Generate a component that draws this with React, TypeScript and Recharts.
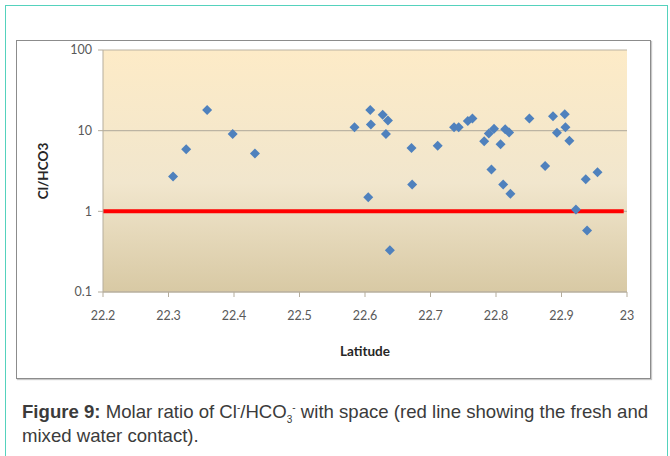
import {
  ScatterChart, Scatter, XAxis, YAxis, CartesianGrid, ReferenceLine,
} from "recharts";

// latitude of each sample and its Cl/HCO3 molar ratio
const latitude = [
  22.307, 22.327, 22.359, 22.398, 22.432, 22.584, 22.605, 22.608, 22.609, 22.627,
  22.635, 22.632, 22.638, 22.671, 22.672, 22.711, 22.736, 22.743, 22.757, 22.764,
  22.782, 22.789, 22.797, 22.807, 22.793, 22.814, 22.82, 22.811, 22.822, 22.851,
  22.875, 22.887, 22.893, 22.905, 22.906, 22.912, 22.922, 22.937, 22.939, 22.955,
];
const ratio = [
  2.7, 5.9, 18, 9.1, 5.2, 11, 1.5, 18, 11.9, 15.7,
  13.4, 9.1, 0.33, 6.1, 2.15, 6.5, 11, 11, 13.2, 14.2,
  7.4, 9.2, 10.6, 6.8, 3.3, 10.4, 9.5, 2.15, 1.65, 14.2,
  3.65, 15.1, 9.4, 16, 11, 7.5, 1.05, 2.5, 0.58, 3.05,
];
const xTicks = [22.2, 22.3, 22.4, 22.5, 22.6, 22.7, 22.8, 22.9, 23];
const yTicks = [0.1, 1, 10, 100];
const minorTicks = [
  0.2, 0.3, 0.4, 0.5, 0.6, 0.7, 0.8, 0.9,
  2, 3, 4, 5, 6, 7, 8, 9,
  20, 30, 40, 50, 60, 70, 80, 90,
];
// fresh / mixed water contact line
const contactLine = [
  { x: 22.2, y: 1 },
  { x: 22.995, y: 1 },
];

const points = latitude.map((x, i) => ({ x, y: ratio[i] }));

const tickStyle = { fill: "#595959", fontSize: 12.5, fontFamily: "Lato" };

const Diamond = (props: any) => {
  const { cx, cy } = props;
  const r = 5;
  return (
    <polygon
      points={`${cx},${cy - r} ${cx + r},${cy} ${cx},${cy + r} ${cx - r},${cy}`}
      fill="#4f81bd"
    />
  );
};

const YLabel = (props: any) => {
  const vb = props.viewBox;
  const x = vb.x;
  const y = vb.y + vb.height / 2;
  return (
    <text
      x={x}
      y={y}
      transform={`rotate(-90 ${x} ${y})`}
      textAnchor="middle"
      dominantBaseline="central"
      fontFamily="Lato"
      fontWeight="bold"
      fontSize={13.5}
      fill="#262626"
    >
      Cl/HCO3
    </text>
  );
};

const supStyle = { fontSize: 10, lineHeight: 0 };

export default function App() {
  return (
    <div style={{ position: "absolute", left: 0, top: 0, width: 670, height: 456, background: "#fff", overflow: "hidden" }}>
      <div
        style={{
          position: "absolute", left: 5, top: 5, width: 661, height: 470,
          border: "1.5px solid #55d2bd",
        }}
      />
      <div
        style={{
          position: "absolute", left: 16, top: 40, width: 633, height: 337,
          border: "1px solid #8c8c8c", boxShadow: "1px 1px 1px #c8c8c8", background: "#fff",
        }}
      />
      <div style={{ position: "absolute", left: 16, top: 40 }}>
        <ScatterChart
          width={634}
          height={338}
          margin={{ top: 10, right: 23, bottom: 22, left: 27 }}
        >
          <defs>
            <linearGradient id="bg" x1="0" y1="0" x2="0" y2="1">
              <stop offset="0%" stopColor="#fdebc7" />
              <stop offset="55%" stopColor="#f1e6cd" />
              <stop offset="100%" stopColor="#d8c9a4" />
            </linearGradient>
          </defs>
          <CartesianGrid
            vertical={false}
            fill="url(#bg)"
            stroke="#bcb4a3"
            strokeWidth={1.2}
            yAxisId="main"
          />
          <XAxis
            type="number"
            dataKey="x"
            domain={[22.2, 23]}
            ticks={xTicks}
            tickFormatter={(v: number) => String(Math.round(v * 10) / 10)}
            stroke="#b5ad9c"
            tickSize={5}
            tickMargin={14}
            height={64}
            tick={tickStyle}
            allowDataOverflow
            label={{
              value: "Latitude",
              position: "insideBottom",
              offset: 0,
              style: { fontFamily: "Lato", fontWeight: "bold", fontSize: 13.5, fill: "#262626" },
            }}
          />
          <YAxis
            yAxisId="main"
            type="number"
            dataKey="y"
            scale="log"
            domain={[0.1, 100]}
            ticks={yTicks}
            allowDataOverflow
            stroke="#b5ad9c"
            tickSize={5}
            tickMargin={6}
            width={60}
            tick={tickStyle}
            label={{ content: YLabel }}
          />
          <YAxis
            yAxisId="minor"
            type="number"
            scale="log"
            domain={[0.1, 100]}
            ticks={minorTicks}
            allowDataOverflow
            mirror
            axisLine={false}
            tickSize={3}
            tick={false}
            stroke="#c6bfae"
            width={60}
          />
          <ReferenceLine
            yAxisId="main"
            segment={contactLine}
            stroke="#ff0000"
            strokeWidth={4}
            ifOverflow="extendDomain"
          />
          <Scatter
            yAxisId="main"
            data={points}
            shape={Diamond}
            isAnimationActive={false}
          />
        </ScatterChart>
      </div>
      <div
        style={{
          position: "absolute", left: 22, top: 400, width: 645,
          fontFamily: "Liberation Sans", fontSize: 18.6, lineHeight: "24px", color: "#3b3b3b",
          whiteSpace: "nowrap",
        }}
      >
        <b>Figure 9:</b> Molar ratio of Cl<sup style={supStyle}>-</sup>/HCO<sub style={supStyle}>3</sub>
        <sup style={supStyle}>-</sup> with space (red line showing the fresh and
        <br />
        mixed water contact).
      </div>
    </div>
  );
}
